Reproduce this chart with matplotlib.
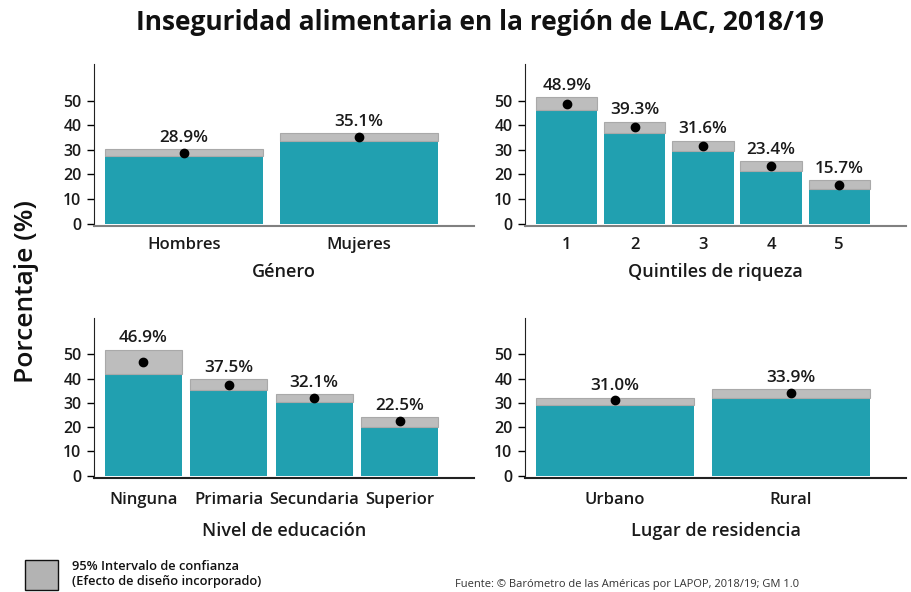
import matplotlib
matplotlib.use("Agg")
import matplotlib.pyplot as plt
from matplotlib.patches import Rectangle

plt.rcParams['font.family'] = ['Open Sans', 'DejaVu Sans']

# ---- data ----
genero_cats = ["Hombres", "Mujeres"]
genero_est = [28.9, 35.1]
genero_lo = [27.6, 33.6]
genero_hi = [30.2, 36.7]

quint_cats = ["1", "2", "3", "4", "5"]
quint_est = [48.9, 39.3, 31.6, 23.4, 15.7]
quint_lo = [46.2, 37.0, 29.5, 21.5, 13.9]
quint_hi = [51.4, 41.5, 33.7, 25.4, 17.7]

edu_cats = ["Ninguna", "Primaria", "Secundaria", "Superior"]
edu_est = [46.9, 37.5, 32.1, 22.5]
edu_lo = [42.1, 35.1, 30.4, 20.1]
edu_hi = [52.0, 39.7, 33.6, 24.0]

res_cats = ["Urbano", "Rural"]
res_est = [31.0, 33.9]
res_lo = [29.3, 31.8]
res_hi = [32.2, 35.6]

yticks = [0, 10, 20, 30, 40, 50]

TEAL = "#21A0B0"
GREY = "#BDBDBD"

W, H = 911, 592
fig = plt.figure(figsize=(W / 100, H / 100), dpi=100)


def px_axes(x0, y_top, x1, y_bot):
    return fig.add_axes([x0 / W, 1 - y_bot / H, (x1 - x0) / W, (y_bot - y_top) / H])


def panel(ax, cats, est, lo, hi, xlabel, bottom_color, tpad, lpad):
    n = len(cats)
    x = list(range(n))
    bw = 0.9
    ax.bar(x, lo, width=bw, color=TEAL, edgecolor="none", zorder=2)
    ax.bar(x, [h - l for h, l in zip(hi, lo)], bottom=lo, width=bw,
           color=GREY, edgecolor="#A9A9A9", linewidth=0.8, zorder=2)
    ax.plot(x, est, "o", color="black", markersize=6, zorder=3)
    for xi, e, h in zip(x, est, hi):
        ax.annotate(f"{e:.1f}%", (xi, h), xytext=(0, 2.5), textcoords="offset points",
                    ha="center", va="bottom", fontsize=12.3, fontweight="semibold",
                    color="#1a1a1a")
    unit = 333 / ((n - 1) + bw)
    ax.set_xlim(-bw / 2 - 11 / unit, (n - 1) + bw / 2 + 36 / unit)
    ax.set_ylim(-1, 65)
    ax.set_yticks(yticks)
    ax.set_xticks(x)
    ax.set_xticklabels(cats, fontsize=12, fontweight="semibold", color="#1a1a1a")
    ax.tick_params(axis="x", length=0, pad=tpad)
    ax.tick_params(axis="y", length=5, width=1, pad=4, labelsize=11.5, labelcolor="#1a1a1a")
    for lab in ax.get_yticklabels():
        lab.set_fontweight("semibold")
    ax.spines["top"].set_visible(False)
    ax.spines["right"].set_visible(False)
    ax.spines["left"].set_color("#222222")
    ax.spines["bottom"].set_color(bottom_color)
    ax.spines["bottom"].set_linewidth(1.5)
    ax.set_xlabel(xlabel, fontsize=13, fontweight="semibold", color="#1a1a1a", labelpad=lpad)


ax1 = px_axes(94, 64, 474, 226)
ax2 = px_axes(525, 64, 906, 226)
ax3 = px_axes(94, 318, 474, 478)
ax4 = px_axes(525, 318, 906, 478)

panel(ax1, genero_cats, genero_est, genero_lo, genero_hi, "Género", "#808080", 8, 7)
panel(ax2, quint_cats, quint_est, quint_lo, quint_hi, "Quintiles de riqueza", "#808080", 8, 7)
panel(ax3, edu_cats, edu_est, edu_lo, edu_hi, "Nivel de educación", "#222222", 10, 10)
panel(ax4, res_cats, res_est, res_lo, res_hi, "Lugar de residencia", "#222222", 10, 10)

fig.text(480 / W, 1 - 23 / H, "Inseguridad alimentaria en la región de LAC, 2018/19",
         ha="center", va="center", fontsize=19, fontweight="bold", color="#111111")
fig.text(27 / W, 1 - 292 / H, "Porcentaje (%)", rotation=90, ha="center", va="center",
         fontsize=19, fontweight="semibold", color="#111111")

# legend
fig.patches.append(Rectangle((25 / W, 1 - 590 / H), 33 / W, 30 / H, transform=fig.transFigure,
                             facecolor="#B3B3B3", edgecolor="#111111", linewidth=1))
fig.text(72 / W, 1 - 574 / H, "95% Intervalo de confianza\n(Efecto de diseño incorporado)",
         ha="left", va="center", fontsize=9.3, fontweight="semibold", color="#111111",
         linespacing=1.15)

fig.text(455 / W, 2 / H,
         "Fuente: © Barómetro de las Américas por LAPOP, 2018/19; GM 1.0",
         ha="left", va="bottom", fontsize=8, color="#333333")

fig.savefig("out.png", dpi=100)
